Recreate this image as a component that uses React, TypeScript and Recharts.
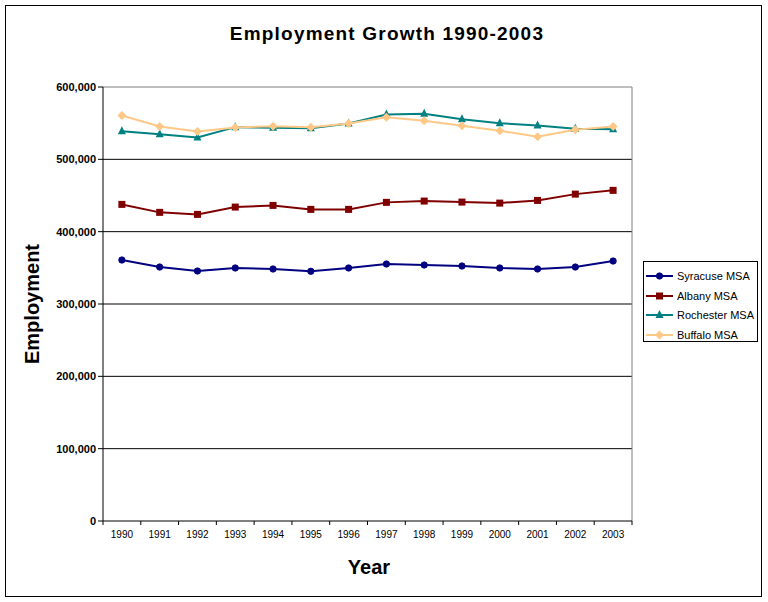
import React from 'react';
import { LineChart, Line, XAxis, YAxis, ReferenceLine, Legend } from 'recharts';

const years = ['1990', '1991', '1992', '1993', '1994', '1995', '1996', '1997', '1998', '1999', '2000', '2001', '2002', '2003'];
const syracuse = [360800, 351100, 345600, 349800, 348400, 345200, 349800, 355300, 353900, 352500, 349800, 348400, 351100, 359400];
const albany = [437700, 426700, 423900, 434000, 436300, 430800, 430800, 440500, 442300, 440900, 439500, 443200, 451900, 457100];
const rochester = [538900, 534800, 530200, 544500, 543600, 543100, 549600, 562000, 563000, 555500, 550000, 546800, 542300, 541700];
const buffalo = [560600, 545400, 538500, 544000, 545800, 544500, 549600, 558300, 553300, 546400, 539500, 531200, 540900, 545400];
const yTicks = [0, 100000, 200000, 300000, 400000, 500000, 600000];
const gridValues = [100000, 200000, 300000, 400000, 500000];

const FONT = '"Liberation Sans", Arial, sans-serif';

type Shape = 'circle' | 'square' | 'triangle' | 'diamond';
const series: { key: string; name: string; color: string; shape: Shape; values: number[] }[] = [
  { key: 'syr', name: 'Syracuse MSA', color: '#000080', shape: 'circle', values: syracuse },
  { key: 'alb', name: 'Albany MSA', color: '#800000', shape: 'square', values: albany },
  { key: 'roc', name: 'Rochester MSA', color: '#008080', shape: 'triangle', values: rochester },
  { key: 'buf', name: 'Buffalo MSA', color: '#FFC886', shape: 'diamond', values: buffalo },
];

const data = years.map((year, i) => {
  const row: any = { x: i + 0.5, year };
  series.forEach((s) => {
    row[s.key] = s.values[i];
  });
  return row;
});

const boundaryTicks = years.map((_, i) => i).concat([years.length]);
const centerTicks = years.map((_, i) => i + 0.5);

function marker(shape: Shape, cx: number, cy: number, color: string, key?: any) {
  switch (shape) {
    case 'circle':
      return <circle key={key} cx={cx} cy={cy} r={3.2} fill={color} stroke={color} strokeWidth={0.8} />;
    case 'square':
      return <rect key={key} x={cx - 3.5} y={cy - 3.5} width={7} height={7} fill={color} />;
    case 'triangle':
      return (
        <polygon
          key={key}
          points={`${cx},${cy - 5} ${cx - 4},${cy + 3} ${cx + 4},${cy + 3}`}
          fill={color}
        />
      );
    default:
      return (
        <polygon
          key={key}
          points={`${cx},${cy - 4.5} ${cx + 4.5},${cy} ${cx},${cy + 4.5} ${cx - 4.5},${cy}`}
          fill={color}
        />
      );
  }
}

const makeDot = (shape: Shape, color: string) => (props: any) => {
  const { cx, cy, index } = props;
  if (cx == null || cy == null) return <g key={`d-${index}`} />;
  return marker(shape, cx, cy, color, `d-${index}`);
};

const LegendBox = () => (
  <div
    style={{
      position: 'relative',
      width: 115,
      height: 81,
      border: '1px solid #000',
      boxSizing: 'border-box',
      background: '#fff',
      fontFamily: FONT,
      fontSize: 11,
      color: '#000',
    }}
  >
    {series.map((s, i) => (
      <div
        key={s.key}
        style={{ position: 'absolute', left: 0, top: 7 + i * 19.7, height: 14, width: 113, whiteSpace: 'nowrap' }}
      >
        <svg width={32} height={14} style={{ position: 'absolute', left: 0, top: 0 }}>
          <line x1={2} y1={7} x2={29} y2={7} stroke={s.color} strokeWidth={2} />
          {marker(s.shape, 15.5, 7, s.color)}
        </svg>
        <span style={{ position: 'absolute', left: 33, top: 0, lineHeight: '14px' }}>{s.name}</span>
      </div>
    ))}
  </div>
);

export default function App() {
  return (
    <div style={{ position: 'absolute', left: 0, top: 0, width: 768, height: 602, background: '#fff' }}>
      <div
        style={{
          position: 'absolute',
          left: 5,
          top: 5,
          width: 757,
          height: 592,
          border: '1px solid #000',
          boxSizing: 'border-box',
        }}
      />
      <div style={{ position: 'absolute', left: 0, top: 0 }}>
        <LineChart width={768} height={602} data={data} margin={{ top: 87, right: 136, bottom: 55, left: 3 }}>
          <XAxis
            xAxisId="b"
            dataKey="x"
            type="number"
            domain={[0, years.length]}
            allowDataOverflow
            ticks={centerTicks}
            tickFormatter={(v: number) => years[Math.floor(v)]}
            tickSize={0}
            tickMargin={5}
            height={21}
            axisLine={false}
            tickLine={false}
            interval={0}
            allowDecimals
            tick={{ fontSize: 10, fill: '#000', fontFamily: FONT }}
          />
          <XAxis
            xAxisId="a"
            dataKey="x"
            type="number"
            domain={[0, years.length]}
            allowDataOverflow
            ticks={boundaryTicks}
            tickFormatter={() => ''}
            tickSize={4}
            height={5}
            axisLine={{ stroke: '#000', strokeWidth: 1 }}
            tickLine={{ stroke: '#000' }}
            interval={0}
            allowDecimals
          />
          <YAxis
            domain={[0, 600000]}
            ticks={yTicks}
            width={100}
            tickSize={5}
            tickFormatter={(v: number) => v.toLocaleString('en-US')}
            tick={{ fontSize: 11, fontWeight: 'bold', fill: '#000', fontFamily: FONT }}
            axisLine={{ stroke: '#000' }}
            tickLine={{ stroke: '#000' }}
            interval={0}
          />
          {gridValues.map((v) => (
            <ReferenceLine key={v} xAxisId="a" y={v} stroke="#000" strokeWidth={1} />
          ))}
          <ReferenceLine xAxisId="a" y={600000} stroke="#808080" strokeWidth={1} />
          <ReferenceLine xAxisId="a" x={years.length} stroke="#808080" strokeWidth={1} />
          {series.map((s) => (
            <Line
              key={s.key}
              xAxisId="a"
              dataKey={s.key}
              name={s.name}
              type="linear"
              stroke={s.color}
              strokeWidth={2}
              dot={makeDot(s.shape, s.color)}
              activeDot={false}
              isAnimationActive={false}
            />
          ))}
          <Legend
            layout="vertical"
            align="center"
            verticalAlign="middle"
            content={() => <LegendBox />}
            wrapperStyle={{ position: 'absolute', left: 643, top: 261, width: 115, height: 81, margin: 0 }}
          />
        </LineChart>
      </div>
      <svg
        width={768}
        height={602}
        style={{ position: 'absolute', left: 0, top: 0, pointerEvents: 'none' }}
        fontFamily={FONT}
      >
        <text x={387} y={40} textAnchor="middle" fontSize={19} fontWeight="bold" letterSpacing={1.2} fill="#000">
          Employment Growth 1990-2003
        </text>
        <text x={369} y={574} textAnchor="middle" fontSize={20} fontWeight="bold" fill="#000">
          Year
        </text>
        <text
          x={39}
          y={304}
          textAnchor="middle"
          fontSize={20}
          fontWeight="bold"
          fill="#000"
          transform="rotate(-90, 39, 304)"
        >
          Employment
        </text>
      </svg>
    </div>
  );
}
